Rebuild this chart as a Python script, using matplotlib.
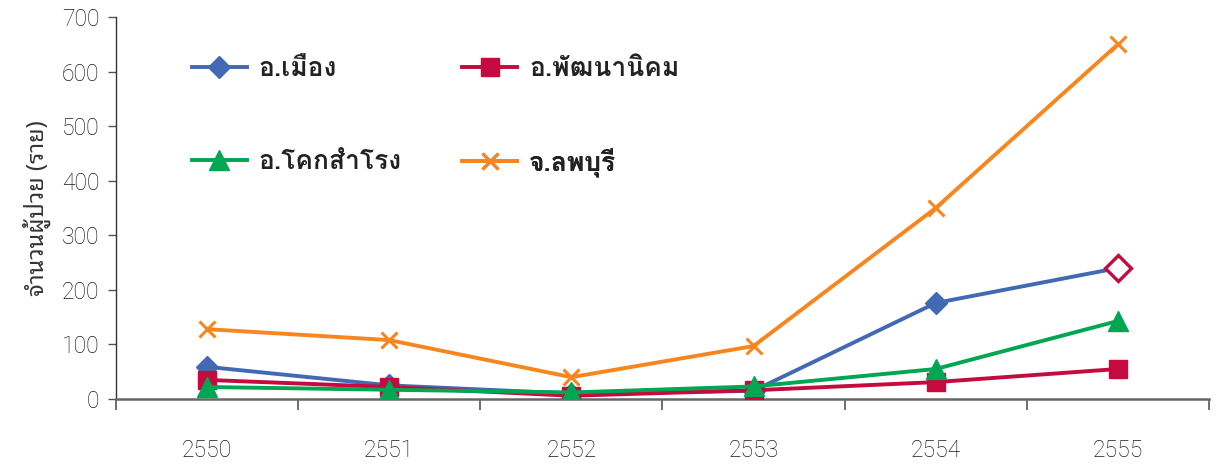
import matplotlib
matplotlib.use("Agg")
import matplotlib.pyplot as plt

years = ["2550", "2551", "2552", "2553", "2554", "2555"]
mueang = [59, 25, 10, 15, 176, 240]
phatthana_nikhom = [35, 22, 6, 16, 31, 55]
khok_samrong = [22, 17, 12, 23, 55, 143]
lopburi = [128, 108, 40, 97, 350, 650]
series_names = ["อ.เมือง", "อ.พัฒนานิคม", "อ.โคกสำโรง", "จ.ลพบุรี"]
y_label = "จำนวนผู้ป่วย (ราย)"
y_ticks = [0, 100, 200, 300, 400, 500, 600, 700]

thai_font = ["Loma", "DejaVu Sans"]
label_font = ["Noto Sans Thai Looped", "DejaVu Sans"]
num_font = ["Roboto", "Liberation Sans", "DejaVu Sans"]

blue = "#4169b4"
red = "#c40a3f"
green = "#00a651"
orange = "#f7861f"

fig = plt.figure(figsize=(12.17, 4.65), dpi=100)
ax = fig.add_axes([0.0953, 0.1419, 0.8981, 0.8215])

x = list(range(len(years)))
lw = 2.8
h_blue, = ax.plot(x, mueang, color=blue, lw=lw, marker="D", ms=11, mec=blue, mfc=blue, zorder=3)
h_red, = ax.plot(x, phatthana_nikhom, color=red, lw=lw, marker="s", ms=13, mec=red, mfc=red, zorder=4)
h_green, = ax.plot(x, khok_samrong, color=green, lw=lw, marker="^", ms=14, mec=green, mfc=green, zorder=5)
h_orange, = ax.plot(x, lopburi, color=orange, lw=lw, marker="x", ms=12, mew=2.2, mec=orange, zorder=2)
# last point of อ.เมือง drawn as a hollow red diamond
ax.plot([x[-1]], [mueang[-1]], linestyle="none", marker="D", ms=13, mfc="white", mec=red, mew=2.4, zorder=6)

ax.set_xlim(-0.5, len(years) - 0.5)
ax.set_ylim(0, 700)
ax.set_yticks(y_ticks)
ax.set_yticklabels([str(v) for v in y_ticks], fontfamily=num_font, fontweight="light",
                   fontsize=16.5, color="#1a1a1a")

ax.set_xticks([i - 0.5 for i in range(len(years) + 1)])
ax.set_xticklabels([])
ax.set_xticks(x, minor=True)
ax.set_xticklabels(years, minor=True, fontfamily=num_font, fontweight="light",
                   fontsize=16.5, color="#1a1a1a")
ax.tick_params(axis="x", which="major", direction="out", length=8, width=1.2, color="#555555")
ax.tick_params(axis="x", which="minor", length=0, pad=29)
ax.tick_params(axis="y", direction="out", length=6, width=1.0, color="#555555", pad=6)

for s in ["top", "right"]:
    ax.spines[s].set_visible(False)
ax.spines["left"].set_color("#333333")
ax.spines["left"].set_linewidth(1.0)
ax.spines["bottom"].set_color("#666666")
ax.spines["bottom"].set_linewidth(1.8)

ax.set_ylabel(y_label, fontfamily=label_font, fontsize=17, color="#333333", labelpad=8)

leg_kw = dict(loc="center left", bbox_transform=fig.transFigure, frameon=False,
              prop={"family": thai_font, "size": 19, "weight": "bold"},
              handlelength=2.1, handletextpad=0.45,
              borderpad=0, borderaxespad=0)
handles = [h_blue, h_red, h_green, h_orange]
anchors = [(0.1575, 0.852), (0.3795, 0.852), (0.1575, 0.652), (0.3795, 0.652)]
for h, name, anc in zip(handles, series_names, anchors):
    lg = ax.legend([h], [name], bbox_to_anchor=anc, **leg_kw)
    for t in lg.get_texts():
        t.set_color("#222222")
    ax.add_artist(lg)

fig.savefig("out.png", dpi=100)
